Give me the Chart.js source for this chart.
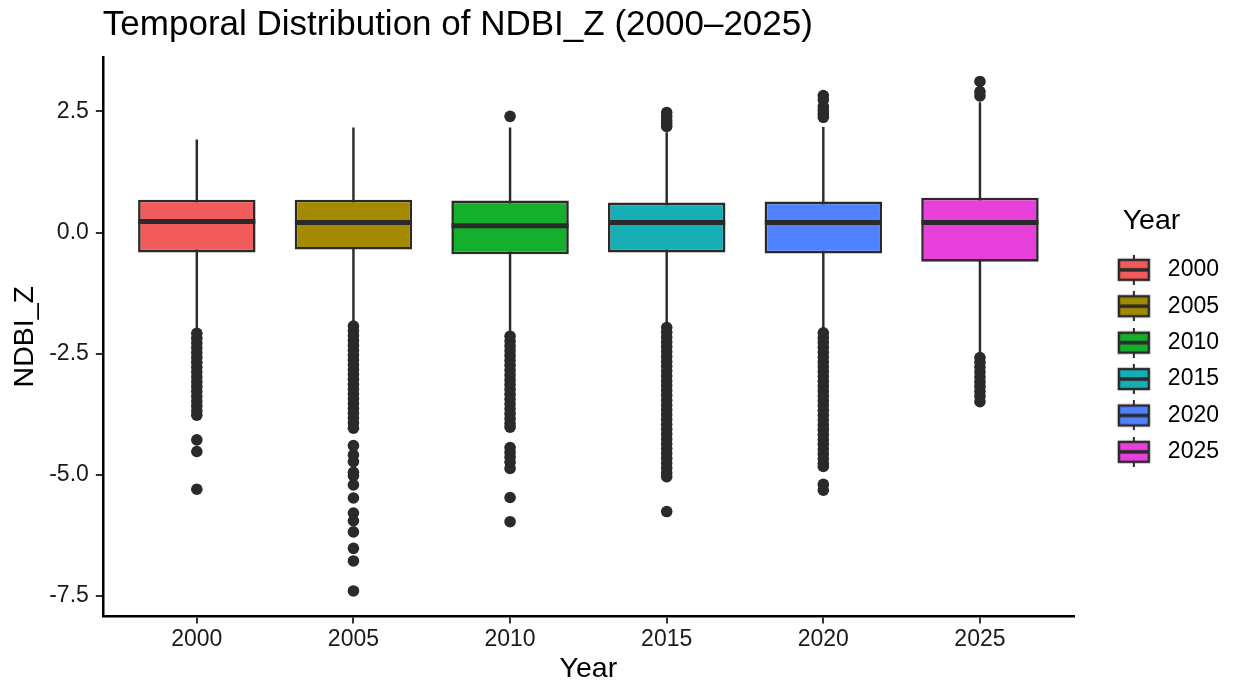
<!DOCTYPE html>
<html>
<head>
<meta charset="utf-8">
<script src="https://cdn.jsdelivr.net/npm/chart.js@4"></script>
<style>
  html, body { margin: 0; padding: 0; background: #fff; }
  #wrap { width: 1233px; height: 688px; }
</style>
</head>
<body>
<div id="wrap"><canvas id="boxChart"></canvas></div>
<script>
  // box stats per year
  const years = ['2000', '2005', '2010', '2015', '2020', '2025'];
  const whiskerLo = [-2.00, -1.88, -2.10, -1.92, -2.03, -2.53];
  const q1 = [-0.41, -0.35, -0.45, -0.41, -0.43, -0.60];
  const median = [0.23, 0.21, 0.14, 0.21, 0.21, 0.21];
  const q3 = [0.68, 0.68, 0.66, 0.62, 0.64, 0.72];
  const whiskerHi = [1.92, 2.17, 2.17, 2.07, 2.18, 2.69];

  const out2000 = [-2.08, -2.18, -2.28, -2.38, -2.48, -2.58, -2.68, -2.78, -2.88, -2.98, -3.08, -3.18,
    -3.28, -3.38, -3.48, -3.58, -3.68, -3.77, -4.28, -4.52, -5.30];
  const out2005 = [-1.93, -2.03, -2.13, -2.23, -2.33, -2.43, -2.53, -2.63, -2.73, -2.83, -2.93, -3.03,
    -3.13, -3.23, -3.33, -3.43, -3.53, -3.63, -3.73, -3.83, -3.93, -4.04, -4.40, -4.59, -4.73,
    -4.95, -5.02, -5.21, -5.48, -5.79, -5.95, -6.18, -6.52, -6.78, -7.40];
  const out2010 = [2.40, -2.14, -2.24, -2.34, -2.44, -2.54, -2.64, -2.74, -2.84, -2.94, -3.04, -3.14,
    -3.24, -3.34, -3.44, -3.54, -3.64, -3.74, -3.84, -3.94, -4.02, -4.44, -4.54, -4.64, -4.74,
    -4.87, -5.47, -5.97];
  const out2015 = [2.48, 2.40, 2.32, 2.25, 2.19, -1.96, -2.06, -2.16, -2.26, -2.36, -2.46, -2.56, -2.66,
    -2.76, -2.86, -2.96, -3.06, -3.16, -3.26, -3.36, -3.46, -3.56, -3.66, -3.76, -3.86, -3.96,
    -4.06, -4.16, -4.26, -4.36, -4.46, -4.56, -4.66, -4.76, -4.86, -4.96, -5.04, -5.76];
  const out2020 = [2.83, 2.74, 2.60, 2.52, 2.45, 2.38, -2.07, -2.17, -2.27, -2.37, -2.47, -2.57, -2.67,
    -2.77, -2.87, -2.97, -3.07, -3.17, -3.27, -3.37, -3.47, -3.57, -3.67, -3.77, -3.87, -3.97,
    -4.07, -4.17, -4.27, -4.37, -4.47, -4.57, -4.67, -4.77, -4.83, -5.20, -5.32];
  const out2025 = [3.12, 2.91, 2.82, -2.58, -2.68, -2.78, -2.88, -2.98, -3.08, -3.18, -3.28, -3.38, -3.49];
  const outliers = [out2000, out2005, out2010, out2015, out2020, out2025];

  const yTicks = [-7.5, -5.0, -2.5, 0.0, 2.5];
  const fills = ['#F15B5B', '#A38A00', '#14B02C', '#15AEB5', '#5082FF', '#E840DA'];
  const ink = '#2a2a2a';
  const font = 'Liberation Sans';

  // legend key: little box with whiskers and median (sits right of centre in its canvas)
  function makeKey(color) {
    const c = document.createElement('canvas');
    c.width = 64; c.height = 30;
    const g = c.getContext('2d');
    g.strokeStyle = ink;
    g.lineWidth = 2;
    g.beginPath(); g.moveTo(44, 0); g.lineTo(44, 30); g.stroke();
    g.fillStyle = color;
    g.fillRect(29, 5, 30, 20);
    g.lineWidth = 2.5;
    g.strokeRect(29, 5, 30, 20);
    g.lineWidth = 3.5;
    g.beginPath(); g.moveTo(29, 15); g.lineTo(59, 15); g.stroke();
    return c;
  }
  const keys = fills.map(makeKey);

  const pos = years.map((y, i) => i + 1);
  const outPoints = [];
  outliers.forEach((arr, i) => arr.forEach(v => outPoints.push({ x: pos[i], y: v })));

  // put the title over the panel, like ggplot does
  const titleToPanel = {
    id: 'titleToPanel',
    afterLayout(chart) {
      if (chart.titleBlock) chart.titleBlock.left = chart.chartArea.left;
    }
  };

  const ctx = document.getElementById('boxChart');
  new Chart(ctx, {
    type: 'bar',
    data: {
      datasets: [
        {
          type: 'scatter',
          label: 'outliers',
          data: outPoints,
          backgroundColor: ink,
          borderWidth: 0,
          pointRadius: 5.8,
          order: 0
        },
        {
          type: 'scatter',
          label: 'median',
          data: pos.map((x, i) => ({ x: x, y: median[i] })),
          pointStyle: 'line',
          pointRadius: 58.5,
          borderColor: ink,
          borderWidth: 5,
          order: 1
        },
        {
          label: 'box',
          data: pos.map((x, i) => ({ x: x, y: [q1[i], q3[i]] })),
          backgroundColor: fills,
          borderColor: ink,
          borderWidth: 2.6,
          borderSkipped: false,
          grouped: false,
          categoryPercentage: 1,
          barPercentage: 0.75,
          order: 2
        },
        {
          label: 'whisker',
          data: pos.map((x, i) => ({ x: x, y: [whiskerLo[i], whiskerHi[i]] })),
          backgroundColor: ink,
          borderWidth: 0,
          grouped: false,
          categoryPercentage: 1,
          barPercentage: 0.0155,
          order: 3
        }
      ]
    },
    options: {
      responsive: true,
      maintainAspectRatio: false,
      animation: false,
      // the wide median markers would otherwise pad the plot area
      layout: { autoPadding: false, padding: { left: 0, right: 4, top: 0, bottom: 4.5 } },
      plugins: {
        tooltip: { enabled: false },
        title: {
          display: true,
          text: 'Temporal Distribution of NDBI_Z (2000–2025)',
          align: 'start',
          color: '#000',
          font: { family: font, size: 35, weight: 'normal', lineHeight: 1.0 },
          padding: { top: 8, bottom: 14 }
        },
        legend: {
          position: 'right',
          align: 'center',
          onClick: null,
          title: {
            display: true,
            text: 'Year',
            position: 'center',
            color: '#000',
            font: { family: font, size: 28.5, lineHeight: 1.34 },
            padding: { top: 0, bottom: 0 }
          },
          labels: {
            usePointStyle: true,
            pointStyleWidth: 69,
            padding: 13.4,
            color: '#111',
            font: { family: font, size: 23 },
            generateLabels: () => years.map((y, i) => ({
              text: y,
              pointStyle: keys[i],
              fillStyle: fills[i],
              strokeStyle: ink,
              lineWidth: 0,
              hidden: false,
              datasetIndex: 0
            }))
          }
        }
      },
      scales: {
        x: {
          type: 'linear',
          min: 0.4,
          max: 6.6,
          offset: false,
          afterBuildTicks: (scale) => { scale.ticks = pos.map(v => ({ value: v })); },
          ticks: {
            autoSkip: false,
            maxRotation: 0,
            padding: 2,
            color: '#1a1a1a',
            font: { family: font, size: 23 },
            callback: (v) => years[v - 1]
          },
          grid: { display: true, drawOnChartArea: false, drawTicks: true, tickLength: 7, tickColor: '#333', lineWidth: 2, offset: false },
          border: { display: true, color: '#000', width: 2.5 },
          title: {
            display: true,
            text: 'Year',
            color: '#000',
            font: { family: font, size: 28.5, lineHeight: 1.0 },
            padding: { top: 0, bottom: 0 }
          }
        },
        y: {
          min: -7.925,
          max: 3.625,
          afterBuildTicks: (scale) => { scale.ticks = yTicks.map(v => ({ value: v })); },
          ticks: {
            padding: 7,
            color: '#1a1a1a',
            font: { family: font, size: 23 },
            callback: (v) => v.toFixed(1)
          },
          grid: { display: true, drawOnChartArea: false, drawTicks: true, tickLength: 7, tickColor: '#333', lineWidth: 2 },
          border: { display: true, color: '#000', width: 2.5 },
          title: {
            display: true,
            text: 'NDBI_Z',
            color: '#000',
            font: { family: font, size: 28.5 },
            padding: { top: 8, bottom: 0 }
          }
        }
      }
    },
    plugins: [titleToPanel]
  });
</script>
</body>
</html>
